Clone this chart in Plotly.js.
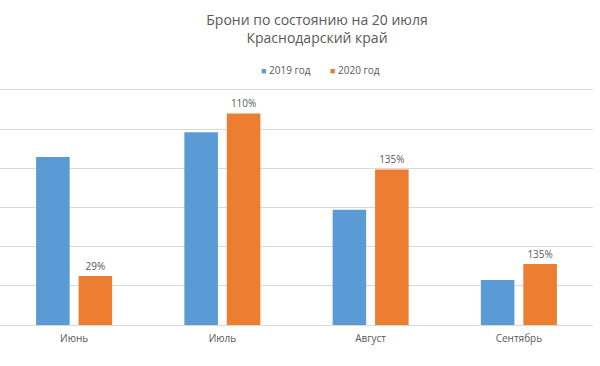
<!DOCTYPE html>
<html>
<head>
<meta charset="utf-8">
<script src="https://cdn.plot.ly/plotly-3.0.1.min.js"></script>
<style>html,body{margin:0;padding:0;background:#fff;}#chart{width:600px;height:366px;}</style>
</head>
<body>
<div id="chart"></div>
<script>
const months = ['Июнь', 'Июль', 'Август', 'Сентябрь'];
const values2019 = [42.9, 49.2, 29.4, 11.5];
const values2020 = [12.5, 54.0, 39.7, 15.6];
const labels2020 = ['29%', '110%', '135%', '135%'];
const seriesNames = ['2019 год', '2020 год'];
const seriesColors = ['#5B9BD5', '#ED7D31'];
const titleText = 'Брони по состоянию на 20 июля<br>Краснодарский край';

const font = '"Open Sans", sans-serif';
const textColor = '#595959';

const data = [
  {
    type: 'bar', name: seriesNames[0], x: months, y: values2019,
    marker: {color: seriesColors[0]}, showlegend: false
  },
  {
    type: 'bar', name: seriesNames[1], x: months, y: values2020,
    marker: {color: seriesColors[1]}, showlegend: false,
    text: labels2020, textposition: 'outside', cliponaxis: false,
    textfont: {family: font, size: 10, color: textColor}
  }
];

const plotTop = 86, plotBottom = 325;
const legendX = [286, 355];
const annotations = seriesNames.map((n, i) => ({
  xref: 'paper', yref: 'paper',
  x: legendX[i] / 593, y: 1 + (plotTop - 70) / (plotBottom - plotTop),
  xanchor: 'center', yanchor: 'middle', showarrow: false,
  text: '<span style="color:' + seriesColors[i] + ';font-size:9px">■</span> ' + n,
  font: {family: font, size: 10, color: textColor}
}));

const layout = {
  width: 600, height: 366,
  margin: {l: 0, r: 7, t: plotTop, b: 366 - plotBottom, pad: 0},
  paper_bgcolor: '#ffffff', plot_bgcolor: '#ffffff',
  font: {family: font, color: textColor},
  title: {
    text: titleText,
    font: {family: font, size: 14, color: textColor},
    x: 317 / 600, xref: 'container', xanchor: 'center',
    y: 1 - 25 / 366, yref: 'container', yanchor: 'top'
  },
  barmode: 'group', bargap: 0.427, bargroupgap: 0.21,
  showlegend: false,
  annotations: annotations,
  xaxis: {
    tickfont: {family: font, size: 10, color: textColor},
    showgrid: false, showline: true, linecolor: '#D9D9D9', linewidth: 1,
    ticks: '', ticklabelstandoff: 4, fixedrange: true
  },
  yaxis: {
    range: [0, 61], dtick: 10, showticklabels: false,
    showgrid: true, gridcolor: '#D9D9D9', gridwidth: 1,
    zeroline: true, zerolinecolor: '#D9D9D9', zerolinewidth: 1,
    ticks: '', fixedrange: true
  }
};

Plotly.newPlot('chart', data, layout, {displayModeBar: false, staticPlot: true});
</script>
</body>
</html>
